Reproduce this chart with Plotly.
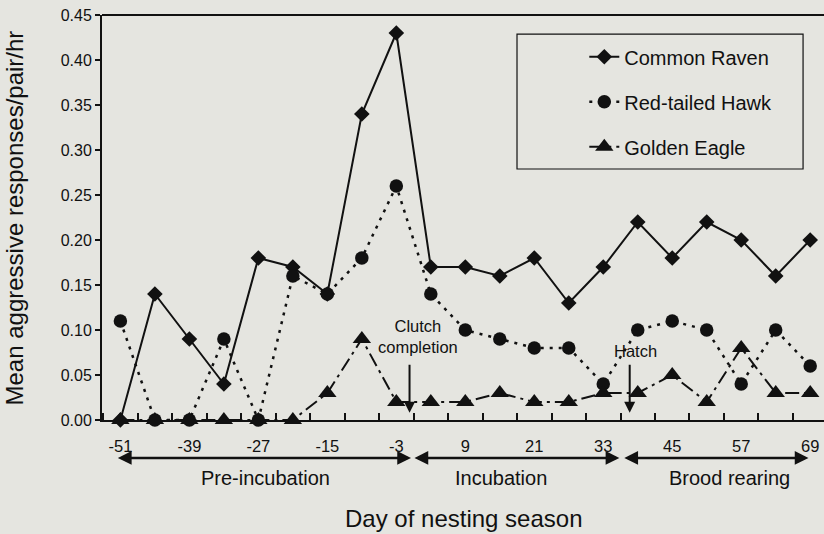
import plotly.graph_objects as go

days = [-51, -45, -39, -33, -27, -21, -15, -9, -3, 3, 9, 15, 21, 27, 33, 39, 45, 51, 57, 63, 69]
raven = [0.00, 0.14, 0.09, 0.04, 0.18, 0.17, 0.14, 0.34, 0.43, 0.17, 0.17, 0.16, 0.18, 0.13, 0.17, 0.22, 0.18, 0.22, 0.20, 0.16, 0.20]
hawk = [0.11, 0.00, 0.00, 0.09, 0.00, 0.16, 0.14, 0.18, 0.26, 0.14, 0.10, 0.09, 0.08, 0.08, 0.04, 0.10, 0.11, 0.10, 0.04, 0.10, 0.06]
eagle = [0.00, 0.00, 0.00, 0.00, 0.00, 0.00, 0.03, 0.09, 0.02, 0.02, 0.02, 0.03, 0.02, 0.02, 0.03, 0.03, 0.05, 0.02, 0.08, 0.03, 0.03]
tick_labels = [-51, -39, -27, -15, -3, 9, 21, 33, 45, 57, 69]
y_ticks = [0.00, 0.05, 0.10, 0.15, 0.20, 0.25, 0.30, 0.35, 0.40, 0.45]

BG = "#e5e5e0"
INK = "#111111"
FONT = "Liberation Sans, Arial, sans-serif"

fig = go.Figure()
fig.add_trace(go.Scatter(
    x=days, y=raven, name="Common Raven", mode="lines+markers",
    line=dict(color=INK, width=2), legendgroup="a",
    marker=dict(symbol="diamond", size=12, color=INK), cliponaxis=False))
fig.add_trace(go.Scatter(
    x=days, y=hawk, name="Red-tailed Hawk", mode="lines+markers",
    line=dict(color=INK, width=2.5, dash="3px,6px"), legendgroup="b",
    marker=dict(symbol="circle", size=13.5, color=INK), cliponaxis=False))
fig.add_trace(go.Scatter(
    x=days, y=eagle, name="Golden Eagle", mode="lines+markers",
    line=dict(color=INK, width=2, dash="14px,5px,3px,5px"), legendgroup="c",
    marker=dict(symbol="triangle-up", size=16, color=INK), cliponaxis=False))

annotations = []
# phase double arrows
phases = [(-51.7, -0.45, "Pre-incubation", -25.8),
          (-0.1, 35.8, "Incubation", 15.2),
          (36.4, 68.7, "Brood rearing", 55.0)]
for a, b, label, cx in phases:
    annotations.append(dict(x=b, y=-0.0938, xref="x", yref="paper",
                            ax=a, ay=0, axref="x", ayref="pixel",
                            showarrow=True, arrowhead=2, arrowside="end+start",
                            arrowsize=1.1, arrowwidth=2.5, arrowcolor=INK, text=""))
    annotations.append(dict(x=cx, y=-0.1432, xref="x", yref="paper", text=label,
                            showarrow=False, font=dict(size=20, color=INK, family=FONT),
                            xanchor="center", yanchor="middle"))

# event arrows
for xv, label, tx, ty in [(-0.7, "Clutch<br>completion", 0.8, 0.0933), (37.6, "Hatch", 38.6, 0.0767)]:
    annotations.append(dict(x=xv, y=0.008, xref="x", yref="y", ax=xv, ay=0.063,
                            axref="x", ayref="y", showarrow=True, arrowhead=2,
                            arrowsize=1.1, arrowwidth=2, arrowcolor=INK, text=""))
    annotations.append(dict(x=tx, y=ty, xref="x", yref="y", text=label, showarrow=False,
                            font=dict(size=16.5, color=INK, family=FONT),
                            xanchor="center", yanchor="middle"))

# axis titles
annotations.append(dict(x=0.5, y=-0.242, xref="paper", yref="paper",
                        text="Day of nesting season", showarrow=False,
                        font=dict(size=24, color=INK, family=FONT), xanchor="center", yanchor="middle"))
annotations.append(dict(x=-0.1205, y=0.5, xref="paper", yref="paper",
                        text="Mean aggressive responses/pair/hr", showarrow=False, textangle=-90,
                        font=dict(size=24, color=INK, family=FONT), xanchor="center", yanchor="middle"))

shapes = [
    dict(type="line", xref="paper", yref="paper", x0=0, x1=1, y0=1, y1=1,
         line=dict(color=INK, width=2)),
    dict(type="rect", xref="paper", yref="paper", x0=0.5748, x1=0.971, y0=0.6198, y1=0.953,
         line=dict(color=INK, width=1.2), fillcolor=BG, layer="below"),
]

fig.update_layout(
    width=824, height=534,
    margin=dict(l=102, r=0, t=15, b=114),
    paper_bgcolor=BG, plot_bgcolor=BG,
    font=dict(family=FONT, color=INK, size=16),
    showlegend=True,
    legend=dict(x=0.668, y=0.945, xanchor="left", yanchor="top",
                bgcolor="rgba(0,0,0,0)", borderwidth=0,
                font=dict(size=20, color=INK, family=FONT),
                tracegroupgap=16),
    xaxis=dict(range=[-54.2, 71.4], tickmode="array", tickvals=tick_labels,
               ticktext=[str(v) for v in tick_labels],
               ticks="outside", ticklen=10, tickcolor="rgba(0,0,0,0)",
               tickfont=dict(size=16.5, color=INK, family=FONT),
               showline=True, linecolor=INK, linewidth=2,
               showgrid=False, zeroline=False,
               minor=dict(ticks="inside", tick0=0, dtick=6, ticklen=7,
                          tickcolor=INK, tickwidth=1.5, showgrid=False)),
    yaxis=dict(range=[0, 0.45], tickmode="array", tickvals=y_ticks,
               ticktext=[f"{v:.2f}" for v in y_ticks],
               ticks="outside", ticklen=5, tickwidth=1.5, tickcolor=INK,
               tickfont=dict(size=16, color=INK, family=FONT),
               showline=True, linecolor=INK, linewidth=2,
               showgrid=False, zeroline=False),
    annotations=annotations,
    shapes=shapes,
)

fig.write_html("out.html", config={"displayModeBar": False},
               post_script="document.body.style.margin='0';document.body.style.background='" + BG + "';")
